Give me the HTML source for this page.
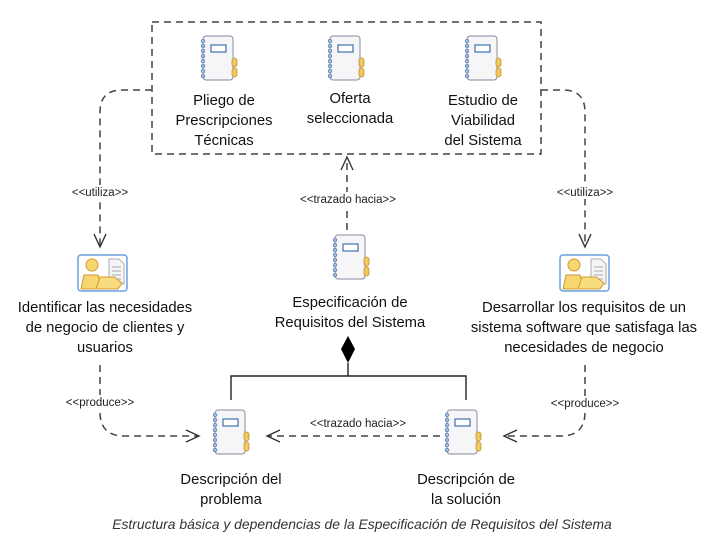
<!DOCTYPE html>
<html><head><meta charset="utf-8"><style>
html,body{margin:0;padding:0;background:#fff;}
svg{display:block;}
text{font-family:"Liberation Sans","DejaVu Sans",sans-serif;}
.lbl{font-size:14.8px;fill:#111;text-anchor:middle;}
.st{font-size:11.5px;fill:#222;text-anchor:middle;}
.d{fill:none;stroke:#444;stroke-width:1.5;stroke-dasharray:7,5;}
.a{fill:none;stroke:#333;stroke-width:1.4;}
</style></head><body>
<svg width="716" height="543" viewBox="0 0 716 543" xmlns="http://www.w3.org/2000/svg">
<defs>
<g id="nb">
  <rect x="5" y="0" width="30" height="44" rx="3" fill="#f6f6f8" stroke="#8a8aa0" stroke-width="1"/>
  <rect x="34" y="22" width="5" height="9" rx="2.5" fill="#f0c860" stroke="#c09030" stroke-width=".8"/>
  <rect x="34" y="32" width="5" height="9" rx="2.5" fill="#f0c860" stroke="#c09030" stroke-width=".8"/>
  <rect x="13" y="9" width="15" height="7" fill="#fff" stroke="#4070b0" stroke-width="1.2"/>
  <g fill="#a8c0e8" stroke="#5070a0" stroke-width=".7">
   <circle cx="5" cy="5" r="1.8"/><circle cx="5" cy="10" r="1.8"/><circle cx="5" cy="15" r="1.8"/><circle cx="5" cy="20" r="1.8"/><circle cx="5" cy="25" r="1.8"/><circle cx="5" cy="30" r="1.8"/><circle cx="5" cy="35" r="1.8"/><circle cx="5" cy="40" r="1.8"/>
  </g>
</g>
<g id="ps">
  <rect x="0" y="0" width="49" height="36" rx="3" fill="#fff" stroke="#6aa0e0" stroke-width="1.5"/>
  <path d="M31 4h10l5 5v20h-15z" fill="#f5f5f5" stroke="#999" stroke-width=".8"/>
  <path d="M34 12h9M34 16h9M34 20h9M34 24h9" stroke="#aaa" stroke-width="1"/>
  <circle cx="14" cy="10" r="6" fill="#f7d670" stroke="#d09a30" stroke-width="1"/>
  <path d="M3 34l3-14h14l4 14z" fill="#f7d670" stroke="#d09a30" stroke-width="1"/>
  <path d="M18 34l4-12h14l8 6-4 6z" fill="#f9dc80" stroke="#d09a30" stroke-width="1"/>
</g>
</defs>

<rect x="152" y="22" width="389" height="132" class="d"/>

<use href="#nb" x="198" y="36"/>
<use href="#nb" x="325" y="36"/>
<use href="#nb" x="462" y="36"/>
<text class="lbl" x="224" y="105">Pliego de</text>
<text class="lbl" x="224" y="125">Prescripciones</text>
<text class="lbl" x="224" y="145">Técnicas</text>
<text class="lbl" x="350" y="103">Oferta</text>
<text class="lbl" x="350" y="123">seleccionada</text>
<text class="lbl" x="483" y="105">Estudio de</text>
<text class="lbl" x="483" y="125">Viabilidad</text>
<text class="lbl" x="483" y="145">del Sistema</text>

<path class="d" d="M152 90H122Q100 90 100 112V246"/>
<path class="a" d="M94 234L100 247L106 234"/>
<rect x="66" y="185" width="68" height="14" fill="#fff"/>
<text class="st" x="100" y="196">&lt;&lt;utiliza&gt;&gt;</text>
<path class="d" d="M541 90H563Q585 90 585 112V246"/>
<path class="a" d="M579 234L585 247L591 234"/>
<rect x="551" y="185" width="68" height="14" fill="#fff"/>
<text class="st" x="585" y="196">&lt;&lt;utiliza&gt;&gt;</text>

<use href="#ps" x="78" y="255"/>
<use href="#ps" x="560" y="255"/>
<text class="lbl" x="105" y="312">Identificar las necesidades</text>
<text class="lbl" x="105" y="332">de negocio de clientes y</text>
<text class="lbl" x="105" y="352">usuarios</text>
<text class="lbl" x="584" y="312">Desarrollar los requisitos de un</text>
<text class="lbl" x="584" y="332">sistema software que satisfaga las</text>
<text class="lbl" x="584" y="352">necesidades de negocio</text>

<path class="d" d="M347 230V158"/>
<path class="a" d="M341 170L347 157L353 170"/>
<rect x="296" y="192" width="104" height="14" fill="#fff"/>
<text class="st" x="348" y="203">&lt;&lt;trazado hacia&gt;&gt;</text>
<use href="#nb" x="330" y="235"/>
<text class="lbl" x="350" y="307">Especificación de</text>
<text class="lbl" x="350" y="327">Requisitos del Sistema</text>

<path d="M348 336L355 349L348 363L341 349Z" fill="#000"/>
<path d="M348 363V376M231 400V376H466V400" fill="none" stroke="#222" stroke-width="1.4"/>

<path class="d" d="M100 365V412Q100 436 124 436H198"/>
<path class="a" d="M186 430L199 436L186 442"/>
<rect x="62" y="395" width="76" height="14" fill="#fff"/>
<text class="st" x="100" y="406">&lt;&lt;produce&gt;&gt;</text>
<path class="d" d="M585 365V412Q585 436 561 436H505"/>
<path class="a" d="M517 430L504 436L517 442"/>
<rect x="547" y="396" width="76" height="14" fill="#fff"/>
<text class="st" x="585" y="407">&lt;&lt;produce&gt;&gt;</text>

<path class="d" d="M440 436H268"/>
<path class="a" d="M280 430L267 436L280 442"/>
<text class="st" x="358" y="427">&lt;&lt;trazado hacia&gt;&gt;</text>

<use href="#nb" x="210" y="410"/>
<use href="#nb" x="442" y="410"/>
<text class="lbl" x="231" y="484">Descripción del</text>
<text class="lbl" x="231" y="504">problema</text>
<text class="lbl" x="466" y="484">Descripción de</text>
<text class="lbl" x="466" y="504">la solución</text>

<text x="362" y="529" style="font-size:13.9px;font-style:italic;fill:#333;text-anchor:middle">Estructura básica y dependencias de la Especificación de Requisitos del Sistema</text>
</svg>
</body></html>
